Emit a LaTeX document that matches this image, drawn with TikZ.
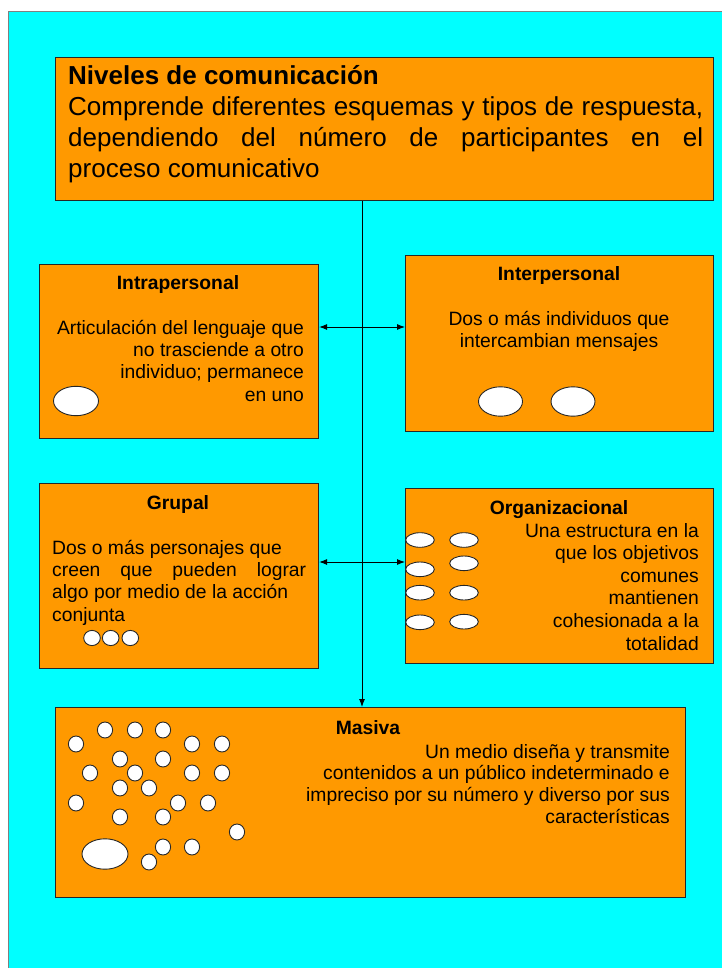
\documentclass[tikz,border=0pt]{standalone}
\usepackage{fontspec}
\setmainfont{Liberation Sans}
\usetikzlibrary{arrows.meta}
\definecolor{bgcyan}{HTML}{00FFFF}
\definecolor{boxorange}{HTML}{FF9900}
\begin{document}
\begin{tikzpicture}[x=1pt,y=-1pt,
  box/.style={draw=black!85, line width=1.1pt, fill=boxorange, inner sep=0pt, anchor=north west},
  body/.style={font=\fontsize{19.3}{22.4}\selectfont, inner sep=0pt},
  ttl/.style={font=\bfseries\fontsize{19.3}{22.4}\selectfont, inner sep=0pt, anchor=base},
  dot/.style={draw=black!85, line width=0.9pt, fill=white},
  conn/.style={line width=0.9pt, draw=black},
  tipend/.style={-{Latex[length=8pt,width=6pt]}},
  tipboth/.style={{Latex[length=8pt,width=6pt]}-{Latex[length=8pt,width=6pt]}}
]
\useasboundingbox (0,0) rectangle (722,968);
\fill[white] (0,0) rectangle (722,968);
\fill[bgcyan] (8,12) rectangle (722,968);
\draw[gray, line width=1pt] (8,968) -- (8,12) -- (722,12);

% boxes
\node[box, minimum width=658pt, minimum height=143pt] (top) at (55,57) {};
\node[box, minimum width=279pt, minimum height=174pt] (intra) at (39,264) {};
\node[box, minimum width=308pt, minimum height=176pt] (inter) at (405,255) {};
\node[box, minimum width=279pt, minimum height=185pt] (grup) at (39,483) {};
\node[box, minimum width=308pt, minimum height=175pt] (org) at (405,488) {};
\node[box, minimum width=630pt, minimum height=190pt] (mas) at (55,707) {};

% connectors
\coordinate (vx) at (362,0);
\coordinate (a1) at (0,327);
\coordinate (a2) at (0,562);
\draw[conn, tipend] (top.south -| vx) -- (mas.north -| vx);
\draw[conn, tipboth] (intra.east |- a1) -- (inter.west |- a1);
\draw[conn, tipboth] (grup.east |- a2) -- (org.west |- a2);

% top text (anchor = baseline of last line)
\node[font=\fontsize{26}{31}\selectfont, inner sep=0pt, anchor=base west, align=left] (toptext) at (68,178)
 {\textbf{Niveles de comunicación}\\
  \makebox[635pt][s]{Comprende diferentes esquemas y tipos de respuesta,}\\
  \makebox[635pt][s]{dependiendo del número de participantes en el}\\
  proceso comunicativo};

% Intrapersonal
\node[ttl] (intraT) at (178,289) {Intrapersonal};
\node[body, align=right, anchor=base east] (intraB) at (304,401.2)
 {Articulación del lenguaje que\\no trasciende a otro\\individuo; permanece\\en uno};
\draw[dot] (76,401) ellipse [x radius=22.5, y radius=14.7];

% Interpersonal
\node[ttl] (interT) at (559,280) {Interpersonal};
\node[body, align=center, anchor=base] (interB) at (559,347.4)
 {Dos o más individuos que\\intercambian mensajes};
\draw[dot] (500.5,401.5) ellipse [x radius=22, y radius=14.7];
\draw[dot] (573,401.5) ellipse [x radius=22, y radius=14.7];

% Grupal
\node[ttl] (grupT) at (178,509) {Grupal};
\node[body, align=left, anchor=base west] (grupB) at (52,621.2)
 {Dos o más personajes que\\\makebox[254pt][s]{creen que pueden lograr}\\algo por medio de la acción\\conjunta};
\foreach \cx in {92,110.7,130.3}
  \draw[dot] (\cx,638) ellipse [x radius=8.3, y radius=7.6];

% Organizacional
\node[ttl] (orgT) at (559,514) {Organizacional};
\node[font=\fontsize{19.3}{22.6}\selectfont, inner sep=0pt, align=right, anchor=base east] (orgB) at (699,650)
 {Una estructura en la\\que los objetivos\\comunes\\mantienen\\cohesionada a la\\totalidad};
\foreach \cy in {540,569.3,592.7,622.3}
  \draw[dot] (420,\cy) ellipse [x radius=14.3, y radius=7.3];
\foreach \cy in {540,563.3,592.7,621.7}
  \draw[dot] (464,\cy) ellipse [x radius=14.3, y radius=7.3];

% Masiva
\node[ttl] (masT) at (368,734) {Masiva};
\node[font=\fontsize{19.3}{21.7}\selectfont, inner sep=0pt, align=right, anchor=base east] (masB) at (670,823.1)
 {Un medio diseña y transmite\\contenidos a un público indeterminado e\\impreciso por su número y diverso por sus\\características};
\foreach \p in {(105,730),(135,730),(163,730),(76,744),(192,744),(222,744),
  (120,759),(163,759),(90,773),(135,773),(192,773),(222,773),
  (120,788),(149,788),(76,803),(178,803),(208,803),(120,817),(163,817),
  (237,832),(163,847),(192,847),(149,862)}
  \draw[dot] \p ellipse [x radius=7.6, y radius=8];
\draw[dot] (105,854) ellipse [x radius=23, y radius=15.2];
\end{tikzpicture}
\end{document}
